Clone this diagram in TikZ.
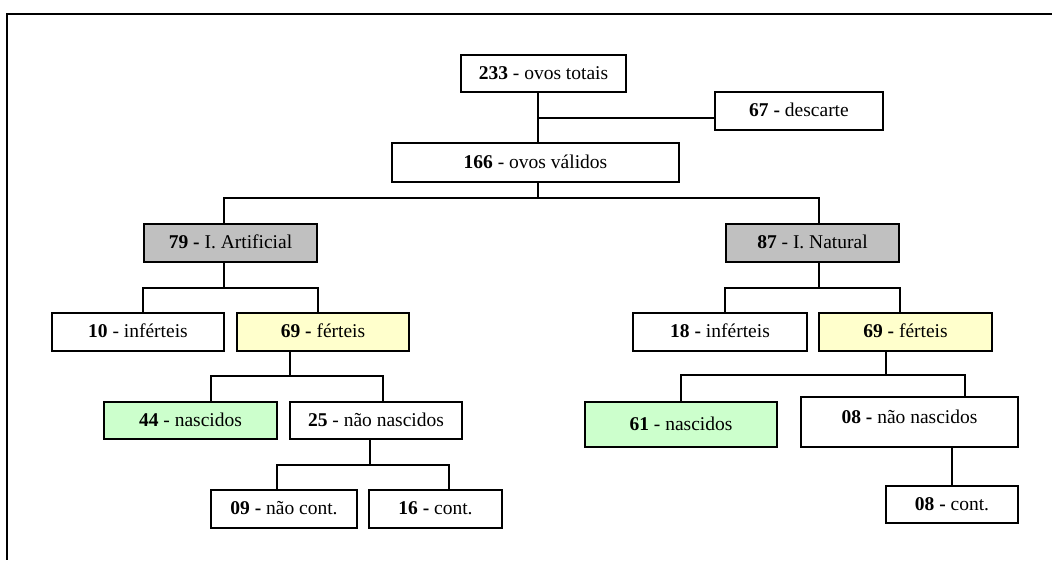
\documentclass[tikz,border=0pt]{standalone}
\usepackage{fontspec}
\setmainfont{Liberation Serif}
\definecolor{boxgray}{HTML}{C0C0C0}
\definecolor{boxyellow}{HTML}{FFFFCC}
\definecolor{boxgreen}{HTML}{CCFFCC}
\begin{document}
\begin{tikzpicture}[x=1pt,y=-1pt,
  bx/.style={draw=black, line width=1.6pt, fill=white, inner sep=0pt,
    font=\fontsize{19.5}{23}\selectfont, text height=13.5pt, text depth=2pt},
  gbox/.style={bx, fill=boxgray},
  ybox/.style={bx, fill=boxyellow},
  grbox/.style={bx, fill=boxgreen},
  ln/.style={line width=1.6pt, line join=miter},
  frame/.style={line width=1.8pt}]
\useasboundingbox (0,0) rectangle (1052,560);
\coordinate (f0) at (7,14);
\coordinate (f1) at (1052,14);
\coordinate (f2) at (7,560);
\draw[frame] (f1) -- (f0) -- (f2);

% nodes
\node[bx, minimum width=165pt, minimum height=37pt] (t233) at (543.5,73.5) {\textbf{233} - ovos totais};
\node[bx, minimum width=168pt, minimum height=38pt] (d67) at (799,111) {\textbf{67 -} descarte};
\node[bx, minimum width=287pt, minimum height=39pt] (v166) at (535.5,162.5) {\textbf{166} - ovos válidos};
\node[gbox, minimum width=173pt, minimum height=38pt] (a79) at (230.5,243) {\textbf{79 -} I. Artificial};
\node[gbox, minimum width=173pt, minimum height=38pt] (n87) at (812.5,243) {\textbf{87} - I. Natural};
\node[bx, minimum width=172pt, minimum height=38pt] (i10) at (138,332) {\textbf{10} - inférteis};
\node[ybox, minimum width=172pt, minimum height=38pt] (f69a) at (323,332) {\textbf{69 -} férteis};
\node[bx, minimum width=174pt, minimum height=38pt] (i18) at (720,332) {\textbf{18 -} inférteis};
\node[ybox, minimum width=173pt, minimum height=38pt] (f69b) at (905.5,332) {\textbf{69 -} férteis};
\node[grbox, minimum width=173pt, minimum height=37pt] (n44) at (190.5,420.5) {\textbf{44} - nascidos};
\node[bx, minimum width=172pt, minimum height=37pt] (nn25) at (376,420.5) {\textbf{25} - não nascidos};
\node[grbox, minimum width=192pt, minimum height=45pt] (n61) at (681,424.5) {\textbf{61} - nascidos};
\node[bx, minimum width=217pt, minimum height=50pt, text height=13.5pt, text depth=11pt] (nn08) at (909.5,422) {\textbf{08 -} não nascidos};
\node[bx, minimum width=146pt, minimum height=38pt] (nc09) at (284,509) {\textbf{09 -} não cont.};
\node[bx, minimum width=133pt, minimum height=38pt] (c16) at (435.5,509) {\textbf{16 -} cont.};
\node[bx, minimum width=132pt, minimum height=37pt] (c08) at (952,504.5) {\textbf{08 -} cont.};

% junction coordinates
\coordinate (c1) at (538,118);
\coordinate (k0) at (538,198);
\coordinate (k1) at (224,198);
\coordinate (k2) at (819,198);
\coordinate (m1) at (224,288);
\coordinate (m2) at (819,288);
\coordinate (m3) at (290,376);
\coordinate (m3a) at (211,376);
\coordinate (m3b) at (383,376);
\coordinate (m4) at (370,465);
\coordinate (m4a) at (277,465);
\coordinate (m4b) at (449,465);
\coordinate (m5) at (886,375);
\coordinate (m5a) at (681,375);
\coordinate (m5b) at (965,375);

% connectors
\draw[ln] (t233.south -| c1) -- (v166.north -| c1);
\draw[ln] (c1) -- (c1 -| d67.west);
\draw[ln] (v166.south -| k0) -- (k0);
\draw[ln] (k1 |- a79.north) -- (k1) -- (k2) -- (k2 |- n87.north);

\draw[ln] (m1 |- a79.south) -- (m1);
\draw[ln] (a79.west |- i10.north) -- (a79.west |- m1) -- (a79.east |- m1) -- (a79.east |- f69a.north);

\draw[ln] (m2 |- n87.south) -- (m2);
\draw[ln] (n87.west |- i18.north) -- (n87.west |- m2) -- (n87.east |- m2) -- (n87.east |- f69b.north);

\draw[ln] (m3 |- f69a.south) -- (m3);
\draw[ln] (m3a |- n44.north) -- (m3a) -- (m3b) -- (m3b |- nn25.north);

\draw[ln] (m4 |- nn25.south) -- (m4);
\draw[ln] (m4a |- nc09.north) -- (m4a) -- (m4b) -- (m4b |- c16.north);

\draw[ln] (m5 |- f69b.south) -- (m5);
\draw[ln] (m5a |- n61.north) -- (m5a) -- (m5b) -- (m5b |- nn08.north);

\draw[ln] (nn08.south -| c08.north) -- (c08.north);
\end{tikzpicture}
\end{document}
